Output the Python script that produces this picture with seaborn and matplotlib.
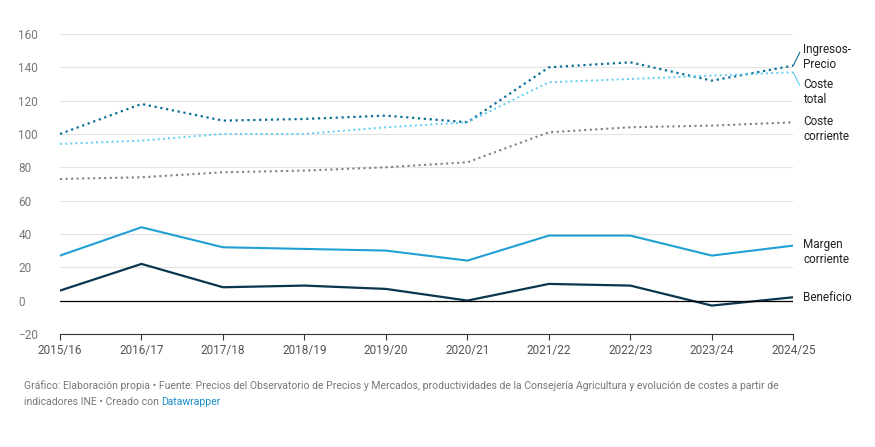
import matplotlib
matplotlib.use("Agg")
import matplotlib.pyplot as plt
import seaborn as sns
import pandas as pd

years = ["2015/16","2016/17","2017/18","2018/19","2019/20","2020/21","2021/22","2022/23","2023/24","2024/25"]
ingresos = [100,118,108,109,111,107,140,143,132,141]
coste_total = [94,96,100,100,104,107,131,133,135,137]
coste_corriente = [73,74,77,78,80,83,101,104,105,107]
margen = [27,44,32,31,30,24,39,39,27,33]
beneficio = [6,22,8,9,7,0,10,9,-3,2]

sns.set_style("white")
plt.rcParams['font.family'] = ['Roboto', 'DejaVu Sans']
fig = plt.figure(figsize=(8.75, 4.47), dpi=100)
ax = fig.add_axes([0.0686, 0.253, 0.838, 0.671])

series = [
    ("Ingresos-\nPrecio", ingresos, "#0a6e96", ":", 1.6),
    ("Coste\ntotal", coste_total, "#5fcdf2", ":", 1.4),
    ("Coste\ncorriente", coste_corriente, "#808080", ":", 1.5),
    ("Margen\ncorriente", margen, "#1f9fd4", "-", 1.5),
    ("Beneficio", beneficio, "#0b3650", "-", 1.6),
]
x = list(range(len(years)))
for name, vals, c, ls, lw in series:
    df = pd.DataFrame({"x": x, "y": vals})
    sns.lineplot(data=df, x="x", y="y", ax=ax, color=c, linestyle=ls, linewidth=lw)

labels_pos = {"Ingresos-\nPrecio": 146, "Coste\ntotal": 125, "Coste\ncorriente": 103, "Margen\ncorriente": 29, "Beneficio": 2}
for name, vals, c, ls, lw in series:
    ax.text(9.12, labels_pos[name], name, fontsize=8.5, color="#222", va="center", ha="left", clip_on=False)
ax.plot([9.0, 9.08], [141, 149], color="#0a6e96", lw=0.8, clip_on=False)
ax.plot([9.0, 9.08], [137, 129], color="#5fcdf2", lw=0.8, clip_on=False)

ax.axhline(0, color="black", lw=0.9)
ax.set_ylim(-20, 160)
ax.set_yticks(range(-20, 161, 20))
ax.set_xlim(0, 9.0)
ax.set_xticks(x)
ax.set_xticklabels(years)
ax.grid(axis="y", color="#e3e3e3", lw=0.8)
for s in ax.spines.values():
    s.set_visible(False)
ax.spines["bottom"].set_visible(True)
ax.spines["bottom"].set_color("#333")
ax.tick_params(axis="x", length=4, color="#333", labelsize=8.5, labelcolor="#555", bottom=True)
ax.tick_params(axis="y", length=0, labelsize=8.5, labelcolor="#777")
for lab in ax.get_yticklabels():
    lab.set_horizontalalignment("left")
ax.yaxis.set_tick_params(pad=30)
ax.set_xlabel("")
ax.set_ylabel("")

fig.text(0.027, 0.13, "Gráfico: Elaboración propia • Fuente: Precios del Observatorio de Precios y Mercados, productividades de la Consejería Agricultura y evolución de costes a partir de",
         fontsize=7.5, color="#777")
fig.text(0.027, 0.095, "indicadores INE • Creado con ", fontsize=7.5, color="#777")
fig.text(0.184, 0.095, "Datawrapper", fontsize=7.5, color="#1a8fc9")
fig.savefig("out.png", dpi=100)
